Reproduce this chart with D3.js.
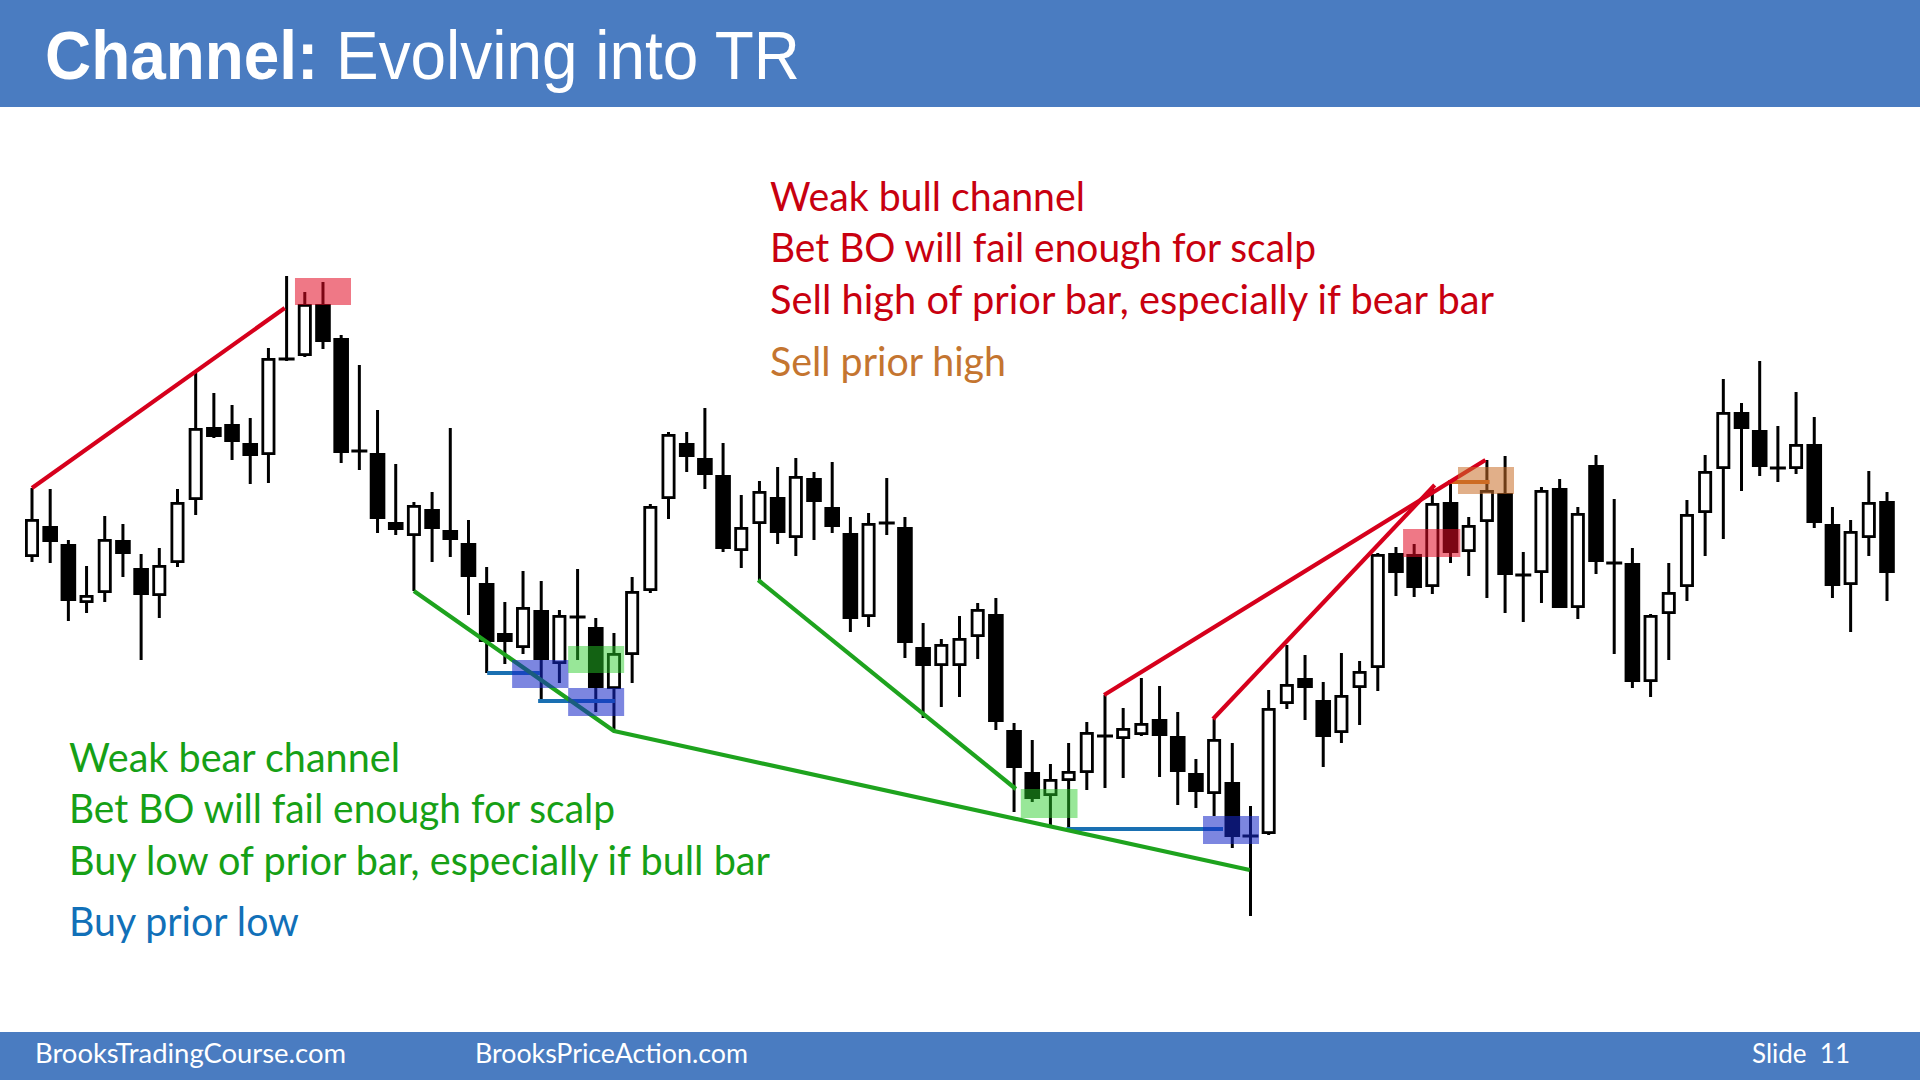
<html>
<head>
  <script src="https://d3js.org/d3.v7.min.js"></script>
  <style>
    body{ margin:0; background:#fff; }
    svg{ display:block; }
  </style>
</head>
<body>
<script type="text/javascript">

// price bars, left to right
var opens  = [44.3,47.4,45.6,39.7,40.7,46.0,43.2,40.4,43.7,50.0,57.3,57.6,55.7,54.5,64.1,64.4,69.6,66.2,54.9,54.7,
              47.8,46.4,49.1,47.0,45.7,41.7,36.7,35.2,39.0,33.6,38.3,37.3,31.1,34.5,40.9,50.1,55.7,54.2,52.5,44.9,
              47.6,50.3,46.2,52.2,49.3,46.7,38.3,47.7,47.3,35.3,33.4,33.4,36.3,38.6,27.0,22.8,20.4,21.9,22.7,26.4,
              26.1,26.5,28.1,26.4,22.7,20.6,21.8,16.4,16.6,29.6,32.2,30.0,26.7,31.2,33.2,44.7,44.6,41.3,49.8,44.8,
              47.8,50.7,42.5,42.7,51.2,39.2,53.5,43.7,43.7,31.8,38.6,41.3,48.7,53.1,58.8,57.0,53.2,53.1,55.6,47.6,
              41.5,46.2,49.9];
var highs  = [51.2,51.1,46.0,43.4,48.4,47.6,44.6,45.2,51.1,62.7,60.7,59.5,58.2,65.2,72.4,70.8,71.8,66.5,63.5,59.0,
              53.6,49.8,50.8,57.2,48.0,43.3,39.8,42.9,41.9,39.0,43.1,38.2,36.7,42.3,49.6,56.8,56.8,59.2,55.7,50.5,
              51.9,53.3,54.2,52.8,53.8,48.3,48.7,52.2,48.3,37.7,36.1,38.4,39.7,40.2,27.7,26.0,23.6,25.7,27.8,30.5,
              29.2,32.2,31.4,28.8,24.1,28.1,25.7,19.4,31.0,35.5,34.5,31.8,34.7,33.9,44.7,45.3,45.6,51.2,51.7,48.3,
              54.0,54.4,44.8,51.3,52.1,49.3,54.5,50.1,45.2,38.6,43.7,50.0,54.5,62.1,59.7,63.9,57.4,60.8,58.3,49.3,
              48.0,52.9,50.8];
var lows   = [43.8,43.7,37.9,38.7,39.8,42.3,34.0,38.2,43.3,48.5,56.2,54.0,51.6,51.7,63.9,64.3,65.1,53.7,53.0,46.7,
              46.5,40.9,43.8,44.3,38.5,32.7,33.6,34.6,30.1,31.7,34.0,28.8,26.9,31.7,40.7,48.1,52.8,51.1,44.8,43.2,
              42.0,45.6,44.4,46.0,46.7,36.8,37.3,46.5,34.2,28.2,29.3,30.3,34.1,27.0,18.8,19.8,17.5,17.1,21.0,21.2,
              22.2,26.4,22.3,19.5,19.2,18.4,15.2,8.4,16.5,29.1,28.0,23.3,25.7,27.5,30.9,40.4,40.3,40.6,43.7,42.4,
              40.2,38.7,37.8,39.7,39.2,38.1,42.6,34.6,31.2,30.3,34.0,39.9,44.4,46.1,50.9,52.4,51.8,52.6,47.2,40.2,
              36.8,44.4,39.9];
var closes = [48.1,45.8,39.9,40.5,46.1,44.6,40.5,43.5,49.8,57.2,56.3,55.8,54.4,64.2,64.1,69.6,65.8,54.7,54.9,48.1,
              47.0,49.5,47.1,46.0,42.3,35.8,35.8,39.3,34.0,38.5,38.3,31.2,34.7,40.9,49.4,56.6,54.3,52.5,45.1,47.3,
              50.9,46.7,52.4,49.8,47.3,38.1,47.7,47.7,35.7,33.4,35.6,36.2,39.1,27.8,23.2,20.1,22.1,22.9,26.8,26.4,
              27.2,27.7,26.4,22.8,20.8,26.1,16.3,16.4,29.2,31.6,31.2,26.3,30.5,32.9,44.6,42.7,41.2,49.7,44.7,47.5,
              51.0,42.5,42.5,51.0,39.2,48.7,43.8,43.7,31.8,38.5,40.8,48.6,52.9,58.8,57.1,53.3,53.2,55.6,47.7,41.4,
              46.9,49.8,42.7];

// trend lines: [bar index, price] points
var redLines    = [[[0,51.2],[13.9,69.2]], [[58.95,30.5],[79.92,54.0]], [[64.94,28.1],[77.13,51.5]]];
var greenLines  = [[[21,40.9],[32,26.9],[66.96,13.0]], [[39.93,42.0],[54.1,21.1]]];
var blueLines   = [[[25.03,32.7],[27.93,32.7]], [[27.83,29.9],[32.05,29.9]], [[56.88,17.1],[65.49,17.1]]];
var orangeLines = [[[77.86,51.8],[80.15,51.8]]];

// highlight zones: [from bar, to bar, top price, bottom price]
var redZones    = [[14.46,17.54,72.2,69.5], [75.39,78.54,47.1,44.3]];
var blueZones   = [[26.4,29.5,34.0,31.2], [29.48,32.56,31.2,28.4], [64.39,67.47,18.4,15.6]];
var greenZones  = [[29.48,32.56,35.4,32.7], [54.37,57.49,21.1,18.2]];
var orangeZones = [[78.41,81.49,53.3,50.6]];

var bullNotes = ["Weak bull channel", "Bet BO will fail enough for scalp", "Sell high of prior bar, especially if bear bar"];
var sellNote  = "Sell prior high";
var bearNotes = ["Weak bear channel", "Bet BO will fail enough for scalp", "Buy low of prior bar, especially if bull bar"];
var buyNote   = "Buy prior low";
var footerNotes = ["BrooksTradingCourse.com", "BrooksPriceAction.com", "Slide  11"];

var bars = opens.map(function(o,i){
  return {i:i, o:o, h:highs[i], l:lows[i], c:closes[i]};
});

var W = 1920, H = 1080;
var svg = d3.select("body").append("svg")
            .attr("width", W)
            .attr("height", H);

var xScale = d3.scaleLinear().domain([0, bars.length-1]).range([32, 1887]);
var yScale = d3.scaleLinear().domain([0, 100]).range([1000, 0]);

// header / footer
var blue = "#4a7cc1";
svg.append("rect").attr("x",0).attr("y",0).attr("width",W).attr("height",107).attr("fill",blue);
svg.append("rect").attr("x",0).attr("y",1032).attr("width",W).attr("height",48).attr("fill",blue);

var title = svg.append("text")
   .attr("x",45).attr("y",78.5)
   .attr("fill","#fff")
   .attr("font-family","'Liberation Sans', Arial, sans-serif")
   .attr("font-size",68)
   .attr("textLength",755)
   .attr("lengthAdjust","spacingAndGlyphs");
title.append("tspan").attr("font-weight","bold").text("Channel:");
title.append("tspan").text(" Evolving into TR");

var footX = [35, 475, 1752], footW = [311, 273, 98];
svg.selectAll("text.foot")
   .data(footerNotes)
   .enter().append("text")
   .classed("foot",true)
   .attr("x",function(d,i){return footX[i]})
   .attr("y",1063)
   .attr("fill","#fff")
   .attr("font-family","Lato, sans-serif")
   .attr("font-size",26)
   .style("white-space","pre")
   .attr("textLength",function(d,i){return footW[i]})
   .attr("lengthAdjust","spacingAndGlyphs")
   .text(function(d){return d});

// candles
var plot = svg.append("g").classed("plot",true);

plot.selectAll("line.wick")
    .data(bars)
    .enter().append("line")
    .classed("wick",true)
    .attr("x1",function(d){return xScale(d.i)})
    .attr("x2",function(d){return xScale(d.i)})
    .attr("y1",function(d){return yScale(d.h)})
    .attr("y2",function(d){return yScale(d.l)})
    .attr("stroke","#000")
    .attr("stroke-width",3);

var sw = 2.8;
plot.selectAll("rect.body")
    .data(bars.filter(function(d){return d.o !== d.c}))
    .enter().append("rect")
    .classed("body",true)
    .each(function(d){
      var top = yScale(Math.max(d.o,d.c)), bot = yScale(Math.min(d.o,d.c));
      var r = d3.select(this);
      if (d.c > d.o) {
        r.attr("x", xScale(d.i) - 5.6)
         .attr("width", 11.2)
         .attr("y", top + sw/2)
         .attr("height", Math.max(bot - top - sw, 1))
         .attr("fill","#fff")
         .attr("stroke","#000")
         .attr("stroke-width",sw);
      } else {
        r.attr("x", xScale(d.i) - 7.8)
         .attr("width", 15.6)
         .attr("y", top)
         .attr("height", Math.max(bot - top, 3))
         .attr("fill","#000");
      }
    });

plot.selectAll("rect.doji")
    .data(bars.filter(function(d){return d.o === d.c}))
    .enter().append("rect")
    .classed("doji",true)
    .attr("x",function(d){return xScale(d.i) - 8})
    .attr("y",function(d){return yScale(d.o) - 1.5})
    .attr("width",16)
    .attr("height",3)
    .attr("fill","#000");

// trend lines
var line = d3.line()
             .x(function(p){return xScale(p[0])})
             .y(function(p){return yScale(p[1])});

function drawLines(list, color, width){
  plot.append("g").selectAll("path")
      .data(list)
      .enter().append("path")
      .attr("d", line)
      .attr("fill","none")
      .attr("stroke",color)
      .attr("stroke-width",width)
      .attr("stroke-linejoin","round");
}
drawLines(blueLines, "#1a70b2", 3.8);
drawLines(orangeLines, "#d2691e", 3.8);
drawLines(greenLines, "#1ea31e", 4.2);
drawLines(redLines, "#d6001c", 4.2);

// zones
function drawZones(list, color, alpha){
  plot.append("g").selectAll("rect")
      .data(list)
      .enter().append("rect")
      .attr("x",function(d){return xScale(d[0])})
      .attr("width",function(d){return xScale(d[1]) - xScale(d[0])})
      .attr("y",function(d){return yScale(d[2])})
      .attr("height",function(d){return yScale(d[3]) - yScale(d[2])})
      .attr("fill",color)
      .attr("fill-opacity",alpha);
}
drawZones(redZones, "rgb(225,10,35)", 0.55);
drawZones(blueZones, "rgb(22,40,200)", 0.56);
drawZones(greenZones, "rgb(40,205,40)", 0.48);
drawZones(orangeZones, "rgb(200,110,40)", 0.55);

// notes
function drawNotes(list, x, ys, widths, colors){
  svg.append("g").selectAll("text")
     .data(list)
     .enter().append("text")
     .attr("x", x)
     .attr("y", function(d,i){return ys[i]})
     .attr("fill", function(d,i){return colors[i]})
     .attr("font-family","Lato, sans-serif")
     .attr("font-size",40)
     .attr("textLength",function(d,i){return widths[i]})
     .attr("lengthAdjust","spacingAndGlyphs")
     .text(function(d){return d});
}
var red = "#c8000f", green = "#16a016";
drawNotes(bullNotes.concat([sellNote]), 770, [210.5, 262, 313.5, 376], [315, 546, 724, 236], [red, red, red, "#c47530"]);
drawNotes(bearNotes.concat([buyNote]), 69, [771.5, 823, 874.5, 936], [331, 546, 701, 230], [green, green, green, "#1170b8"]);

</script>
</body>
</html>
